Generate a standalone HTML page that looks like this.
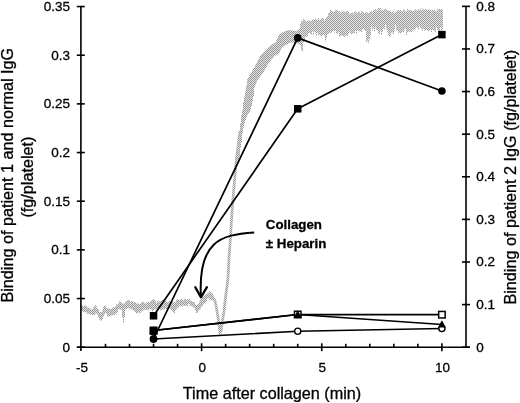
<!DOCTYPE html><html><head><meta charset="utf-8"><style>html,body{margin:0;padding:0;background:#fff;width:520px;height:403px;overflow:hidden}svg{display:block;filter:grayscale(1)}text{font-family:"Liberation Sans",sans-serif;fill:#000;stroke:#000;stroke-width:0.3px}</style></head><body>
<svg width="520" height="403" viewBox="0 0 520 403">
<defs><pattern id="dz" patternUnits="userSpaceOnUse" width="2" height="2"><rect width="2" height="2" fill="#e2e2e2"/><rect width="1" height="1" fill="#979797"/><rect x="1" y="1" width="1" height="1" fill="#979797"/></pattern><pattern id="dz2" patternUnits="userSpaceOnUse" width="2" height="2"><rect width="2" height="2" fill="#e6e6e6"/><rect width="1" height="1" fill="#9c9c9c"/><rect x="1" y="1" width="1" height="1" fill="#9c9c9c"/></pattern></defs>
<polygon points="81.0,305.0 82.0,305.0 82.0,305.9 83.0,305.9 83.0,305.9 84.0,305.9 84.0,305.2 85.0,305.2 85.0,305.5 86.0,305.5 86.0,306.2 87.0,306.2 87.0,307.6 88.0,307.6 88.0,307.4 89.0,307.4 89.0,308.6 90.0,308.6 90.0,308.6 91.0,308.6 91.0,309.4 92.0,309.4 92.0,309.1 93.0,309.1 93.0,307.2 94.0,307.2 94.0,306.6 95.0,306.6 95.0,305.3 96.0,305.3 96.0,306.5 97.0,306.5 97.0,308.4 98.0,308.4 98.0,309.5 99.0,309.5 99.0,312.3 100.0,312.3 100.0,311.8 101.0,311.8 101.0,312.3 102.0,312.3 102.0,310.6 103.0,310.6 103.0,307.2 104.0,307.2 104.0,305.4 105.0,305.4 105.0,305.8 106.0,305.8 106.0,307.9 107.0,307.9 107.0,308.4 108.0,308.4 108.0,308.5 109.0,308.5 109.0,307.9 110.0,307.9 110.0,308.9 111.0,308.9 111.0,308.8 112.0,308.8 112.0,308.0 113.0,308.0 113.0,307.3 114.0,307.3 114.0,307.2 115.0,307.2 115.0,305.9 116.0,305.9 116.0,304.5 117.0,304.5 117.0,304.2 118.0,304.2 118.0,303.1 119.0,303.1 119.0,301.3 120.0,301.3 120.0,301.5 121.0,301.5 121.0,302.7 122.0,302.7 122.0,303.0 123.0,303.0 123.0,303.7 124.0,303.7 124.0,303.2 125.0,303.2 125.0,301.6 126.0,301.6 126.0,301.3 127.0,301.3 127.0,300.6 128.0,300.6 128.0,300.0 129.0,300.0 129.0,300.6 130.0,300.6 130.0,302.2 131.0,302.2 131.0,301.1 132.0,301.1 132.0,301.6 133.0,301.6 133.0,302.7 134.0,302.7 134.0,301.7 135.0,301.7 135.0,302.6 136.0,302.6 136.0,304.0 137.0,304.0 137.0,303.3 138.0,303.3 138.0,303.7 139.0,303.7 139.0,303.9 140.0,303.9 140.0,303.6 141.0,303.6 141.0,302.5 142.0,302.5 142.0,301.7 143.0,301.7 143.0,301.8 144.0,301.8 144.0,302.7 145.0,302.7 145.0,303.5 146.0,303.5 146.0,302.5 147.0,302.5 147.0,302.3 148.0,302.3 148.0,301.8 149.0,301.8 149.0,302.6 150.0,302.6 150.0,300.9 151.0,300.9 151.0,300.1 152.0,300.1 152.0,300.0 153.0,300.0 153.0,299.2 154.0,299.2 154.0,299.5 155.0,299.5 155.0,301.1 156.0,301.1 156.0,303.1 157.0,303.1 157.0,301.0 158.0,301.0 158.0,301.7 159.0,301.7 159.0,301.3 160.0,301.3 160.0,300.9 161.0,300.9 161.0,301.1 162.0,301.1 162.0,300.1 163.0,300.1 163.0,300.0 164.0,300.0 164.0,300.9 165.0,300.9 165.0,300.7 166.0,300.7 166.0,301.8 167.0,301.8 167.0,302.0 168.0,302.0 168.0,302.0 169.0,302.0 169.0,300.9 170.0,300.9 170.0,301.1 171.0,301.1 171.0,300.5 172.0,300.5 172.0,300.9 173.0,300.9 173.0,302.3 174.0,302.3 174.0,302.2 175.0,302.2 175.0,301.8 176.0,301.8 176.0,299.9 177.0,299.9 177.0,299.5 178.0,299.5 178.0,299.9 179.0,299.9 179.0,300.1 180.0,300.1 180.0,299.7 181.0,299.7 181.0,298.6 182.0,298.6 182.0,300.2 183.0,300.2 183.0,299.9 184.0,299.9 184.0,298.8 185.0,298.8 185.0,299.1 186.0,299.1 186.0,300.3 187.0,300.3 187.0,299.2 188.0,299.2 188.0,299.8 189.0,299.8 189.0,298.8 190.0,298.8 190.0,300.9 191.0,300.9 191.0,299.9 192.0,299.9 192.0,302.1 193.0,302.1 193.0,301.6 194.0,301.6 194.0,302.3 195.0,302.3 195.0,305.0 196.0,305.0 196.0,305.2 197.0,305.2 197.0,304.4 198.0,304.4 198.0,304.0 199.0,304.0 199.0,301.6 200.0,301.6 200.0,300.1 201.0,300.1 201.0,298.8 202.0,298.8 202.0,297.1 203.0,297.1 203.0,296.2 204.0,296.2 204.0,295.4 205.0,295.4 205.0,294.5 206.0,294.5 206.0,294.1 207.0,294.1 207.0,293.5 208.0,293.5 208.0,292.7 209.0,292.7 209.0,291.5 210.0,291.5 210.0,292.1 211.0,292.1 211.0,293.5 212.0,293.5 212.0,293.1 213.0,293.1 213.0,300.6 212.0,300.6 212.0,300.1 211.0,300.1 211.0,299.3 210.0,299.3 210.0,299.4 209.0,299.4 209.0,298.6 208.0,298.6 208.0,299.0 207.0,299.0 207.0,300.9 206.0,300.9 206.0,302.4 205.0,302.4 205.0,303.2 204.0,303.2 204.0,303.7 203.0,303.7 203.0,306.2 202.0,306.2 202.0,306.8 201.0,306.8 201.0,308.8 200.0,308.8 200.0,309.8 199.0,309.8 199.0,310.6 198.0,310.6 198.0,312.7 197.0,312.7 197.0,313.1 196.0,313.1 196.0,310.9 195.0,310.9 195.0,308.0 194.0,308.0 194.0,307.5 193.0,307.5 193.0,306.6 192.0,306.6 192.0,306.5 191.0,306.5 191.0,305.9 190.0,305.9 190.0,304.0 189.0,304.0 189.0,304.1 188.0,304.1 188.0,305.8 187.0,305.8 187.0,304.9 186.0,304.9 186.0,305.9 185.0,305.9 185.0,306.0 184.0,306.0 184.0,305.6 183.0,305.6 183.0,306.2 182.0,306.2 182.0,305.9 181.0,305.9 181.0,306.2 180.0,306.2 180.0,305.6 179.0,305.6 179.0,307.5 178.0,307.5 178.0,307.5 177.0,307.5 177.0,308.9 176.0,308.9 176.0,310.6 175.0,310.6 175.0,313.2 174.0,313.2 174.0,311.9 173.0,311.9 173.0,311.6 172.0,311.6 172.0,310.0 171.0,310.0 171.0,308.7 170.0,308.7 170.0,308.8 169.0,308.8 169.0,308.5 168.0,308.5 168.0,308.4 167.0,308.4 167.0,309.0 166.0,309.0 166.0,307.8 165.0,307.8 165.0,309.2 164.0,309.2 164.0,309.5 163.0,309.5 163.0,309.0 162.0,309.0 162.0,310.0 161.0,310.0 161.0,310.6 160.0,310.6 160.0,308.7 159.0,308.7 159.0,308.9 158.0,308.9 158.0,310.5 157.0,310.5 157.0,308.9 156.0,308.9 156.0,309.4 155.0,309.4 155.0,309.4 154.0,309.4 154.0,310.4 153.0,310.4 153.0,311.4 152.0,311.4 152.0,309.4 151.0,309.4 151.0,309.6 150.0,309.6 150.0,308.9 149.0,308.9 149.0,310.6 148.0,310.6 148.0,309.8 147.0,309.8 147.0,309.7 146.0,309.7 146.0,309.7 145.0,309.7 145.0,309.9 144.0,309.9 144.0,309.7 143.0,309.7 143.0,311.2 142.0,311.2 142.0,311.3 141.0,311.3 141.0,312.7 140.0,312.7 140.0,313.3 139.0,313.3 139.0,312.4 138.0,312.4 138.0,313.5 137.0,313.5 137.0,313.1 136.0,313.1 136.0,312.2 135.0,312.2 135.0,311.3 134.0,311.3 134.0,310.4 133.0,310.4 133.0,310.3 132.0,310.3 132.0,309.2 131.0,309.2 131.0,308.5 130.0,308.5 130.0,309.5 129.0,309.5 129.0,308.0 128.0,308.0 128.0,308.3 127.0,308.3 127.0,309.4 126.0,309.4 126.0,309.5 125.0,309.5 125.0,317.3 124.0,317.3 124.0,323.1 123.0,323.1 123.0,317.6 122.0,317.6 122.0,309.8 121.0,309.8 121.0,309.6 120.0,309.6 120.0,309.2 119.0,309.2 119.0,309.3 118.0,309.3 118.0,312.1 117.0,312.1 117.0,313.0 116.0,313.0 116.0,313.8 115.0,313.8 115.0,315.2 114.0,315.2 114.0,315.1 113.0,315.1 113.0,315.9 112.0,315.9 112.0,315.5 111.0,315.5 111.0,316.2 110.0,316.2 110.0,316.6 109.0,316.6 109.0,316.5 108.0,316.5 108.0,316.5 107.0,316.5 107.0,313.9 106.0,313.9 106.0,313.0 105.0,313.0 105.0,314.4 104.0,314.4 104.0,316.3 103.0,316.3 103.0,319.1 102.0,319.1 102.0,320.8 101.0,320.8 101.0,320.5 100.0,320.5 100.0,319.4 99.0,319.4 99.0,317.2 98.0,317.2 98.0,314.7 97.0,314.7 97.0,313.2 96.0,313.2 96.0,313.5 95.0,313.5 95.0,315.1 94.0,315.1 94.0,314.9 93.0,314.9 93.0,315.5 92.0,315.5 92.0,314.3 91.0,314.3 91.0,314.4 90.0,314.4 90.0,315.1 89.0,315.1 89.0,313.2 88.0,313.2 88.0,314.1 87.0,314.1 87.0,312.2 86.0,312.2 86.0,312.5 85.0,312.5 85.0,312.3 84.0,312.3 84.0,311.7 83.0,311.7 83.0,310.9 82.0,310.9 82.0,310.9 81.0,310.9" fill="url(#dz)"/>
<polyline points="209,294.5 212,296 215,301 216.5,308 218,317.5 219.2,326 220,333 221,331 222.3,322 224,311 225.5,298 227,286 228,278 229,258 230.3,240 231.5,220 232.9,200 234.6,180 236.3,160 238.8,140 239.8,132" fill="none" stroke="url(#dz)" stroke-width="2.8" stroke-linejoin="round" stroke-linecap="round"/>
<polygon points="238.0,140.0 239.0,140.0 239.0,133.1 240.0,133.1 240.0,123.5 241.0,123.5 241.0,115.2 242.0,115.2 242.0,110.3 243.0,110.3 243.0,101.8 244.0,101.8 244.0,96.5 245.0,96.5 245.0,91.4 246.0,91.4 246.0,85.6 247.0,85.6 247.0,79.3 248.0,79.3 248.0,77.4 249.0,77.4 249.0,75.6 250.0,75.6 250.0,73.9 251.0,73.9 251.0,72.3 252.0,72.3 252.0,70.6 253.0,70.6 253.0,69.0 254.0,69.0 254.0,67.0 255.0,67.0 255.0,65.0 256.0,65.0 256.0,63.0 257.0,63.0 257.0,61.2 258.0,61.2 258.0,59.4 259.0,59.4 259.0,57.5 260.0,57.5 260.0,55.7 261.0,55.7 261.0,54.4 262.0,54.4 262.0,53.4 263.0,53.4 263.0,52.4 264.0,52.4 264.0,51.4 265.0,51.4 265.0,50.5 266.0,50.5 266.0,49.5 267.0,49.5 267.0,48.5 268.0,48.5 268.0,47.5 269.0,47.5 269.0,46.6 270.0,46.6 270.0,45.8 271.0,45.8 271.0,44.9 272.0,44.9 272.0,44.0 273.0,44.0 273.0,43.5 274.0,43.5 274.0,43.0 275.0,43.0 275.0,42.5 276.0,42.5 276.0,40.2 277.0,40.2 277.0,38.0 278.0,38.0 278.0,35.7 279.0,35.7 279.0,33.9 280.0,33.9 280.0,33.4 281.0,33.4 281.0,32.9 282.0,32.9 282.0,32.4 283.0,32.4 283.0,31.9 284.0,31.9 284.0,31.4 285.0,31.4 285.0,31.1 286.0,31.1 286.0,30.8 287.0,30.8 287.0,30.5 288.0,30.5 288.0,30.2 289.0,30.2 289.0,30.1 290.0,30.1 290.0,30.2 291.0,30.2 291.0,30.4 292.0,30.4 292.0,30.5 293.0,30.5 293.0,30.7 294.0,30.7 294.0,30.8 295.0,30.8 295.0,31.0 296.0,31.0 296.0,30.7 297.0,30.7 297.0,30.4 298.0,30.4 298.0,30.1 299.0,30.1 299.0,28.0 300.0,28.0 300.0,44.0 299.0,44.0 299.0,43.8 298.0,43.8 298.0,43.5 297.0,43.5 297.0,43.2 296.0,43.2 296.0,43.0 295.0,43.0 295.0,42.9 294.0,42.9 294.0,42.8 293.0,42.8 293.0,42.6 292.0,42.6 292.0,42.5 291.0,42.5 291.0,42.4 290.0,42.4 290.0,43.0 289.0,43.0 289.0,43.5 288.0,43.5 288.0,44.1 287.0,44.1 287.0,44.6 286.0,44.6 286.0,45.2 285.0,45.2 285.0,45.8 284.0,45.8 284.0,46.3 283.0,46.3 283.0,46.9 282.0,46.9 282.0,48.6 281.0,48.6 281.0,50.6 280.0,50.6 280.0,52.6 279.0,52.6 279.0,53.8 278.0,53.8 278.0,54.3 277.0,54.3 277.0,54.8 276.0,54.8 276.0,55.3 275.0,55.3 275.0,56.2 274.0,56.2 274.0,57.3 273.0,57.3 273.0,58.5 272.0,58.5 272.0,59.6 271.0,59.6 271.0,60.7 270.0,60.7 270.0,61.9 269.0,61.9 269.0,63.0 268.0,63.0 268.0,65.2 267.0,65.2 267.0,67.5 266.0,67.5 266.0,69.0 265.0,69.0 265.0,70.4 264.0,70.4 264.0,71.9 263.0,71.9 263.0,73.3 262.0,73.3 262.0,74.8 261.0,74.8 261.0,76.3 260.0,76.3 260.0,77.6 259.0,77.6 259.0,78.8 258.0,78.8 258.0,80.0 257.0,80.0 257.0,82.5 256.0,82.5 256.0,84.9 255.0,84.9 255.0,87.4 254.0,87.4 254.0,96.4 253.0,96.4 253.0,101.3 252.0,101.3 252.0,106.3 251.0,106.3 251.0,110.3 250.0,110.3 250.0,111.9 249.0,111.9 249.0,113.6 248.0,113.6 248.0,115.2 247.0,115.2 247.0,116.9 246.0,116.9 246.0,119.9 245.0,119.9 245.0,123.3 244.0,123.3 244.0,127.6 243.0,127.6 243.0,133.1 242.0,133.1 242.0,142.3 241.0,142.3 241.0,148.0 240.0,148.0 240.0,156.0 239.0,156.0 239.0,160.0 238.0,160.0" fill="url(#dz)"/>
<polygon points="300.0,23.4 301.0,23.4 301.0,20.5 302.0,20.5 302.0,20.8 303.0,20.8 303.0,18.9 304.0,18.9 304.0,20.0 305.0,20.0 305.0,20.5 306.0,20.5 306.0,20.9 307.0,20.9 307.0,20.6 308.0,20.6 308.0,20.6 309.0,20.6 309.0,20.9 310.0,20.9 310.0,21.3 311.0,21.3 311.0,20.9 312.0,20.9 312.0,19.8 313.0,19.8 313.0,19.6 314.0,19.6 314.0,19.9 315.0,19.9 315.0,18.2 316.0,18.2 316.0,19.6 317.0,19.6 317.0,19.7 318.0,19.7 318.0,17.7 319.0,17.7 319.0,19.7 320.0,19.7 320.0,19.3 321.0,19.3 321.0,18.5 322.0,18.5 322.0,18.0 323.0,18.0 323.0,18.2 324.0,18.2 324.0,20.4 325.0,20.4 325.0,19.0 326.0,19.0 326.0,17.3 327.0,17.3 327.0,16.3 328.0,16.3 328.0,13.6 329.0,13.6 329.0,11.9 330.0,11.9 330.0,9.7 331.0,9.7 331.0,10.5 332.0,10.5 332.0,11.4 333.0,11.4 333.0,11.7 334.0,11.7 334.0,11.8 335.0,11.8 335.0,9.8 336.0,9.8 336.0,9.9 337.0,9.9 337.0,10.6 338.0,10.6 338.0,12.1 339.0,12.1 339.0,11.2 340.0,11.2 340.0,12.5 341.0,12.5 341.0,12.0 342.0,12.0 342.0,11.1 343.0,11.1 343.0,11.5 344.0,11.5 344.0,11.3 345.0,11.3 345.0,12.2 346.0,12.2 346.0,11.0 347.0,11.0 347.0,11.0 348.0,11.0 348.0,12.0 349.0,12.0 349.0,13.4 350.0,13.4 350.0,13.4 351.0,13.4 351.0,12.7 352.0,12.7 352.0,12.6 353.0,12.6 353.0,13.5 354.0,13.5 354.0,11.8 355.0,11.8 355.0,11.6 356.0,11.6 356.0,12.5 357.0,12.5 357.0,12.7 358.0,12.7 358.0,11.9 359.0,11.9 359.0,11.4 360.0,11.4 360.0,13.1 361.0,13.1 361.0,10.7 362.0,10.7 362.0,12.0 363.0,12.0 363.0,11.9 364.0,11.9 364.0,12.9 365.0,12.9 365.0,12.3 366.0,12.3 366.0,12.3 367.0,12.3 367.0,12.7 368.0,12.7 368.0,13.0 369.0,13.0 369.0,12.4 370.0,12.4 370.0,11.5 371.0,11.5 371.0,11.3 372.0,11.3 372.0,12.3 373.0,12.3 373.0,9.6 374.0,9.6 374.0,10.2 375.0,10.2 375.0,8.9 376.0,8.9 376.0,10.4 377.0,10.4 377.0,9.4 378.0,9.4 378.0,7.7 379.0,7.7 379.0,8.1 380.0,8.1 380.0,7.9 381.0,7.9 381.0,10.4 382.0,10.4 382.0,9.0 383.0,9.0 383.0,10.8 384.0,10.8 384.0,9.1 385.0,9.1 385.0,8.8 386.0,8.8 386.0,9.4 387.0,9.4 387.0,10.7 388.0,10.7 388.0,10.5 389.0,10.5 389.0,10.4 390.0,10.4 390.0,10.9 391.0,10.9 391.0,11.9 392.0,11.9 392.0,12.0 393.0,12.0 393.0,11.3 394.0,11.3 394.0,12.8 395.0,12.8 395.0,12.1 396.0,12.1 396.0,12.1 397.0,12.1 397.0,10.4 398.0,10.4 398.0,9.9 399.0,9.9 399.0,11.1 400.0,11.1 400.0,9.6 401.0,9.6 401.0,11.1 402.0,11.1 402.0,11.2 403.0,11.2 403.0,9.4 404.0,9.4 404.0,9.4 405.0,9.4 405.0,11.4 406.0,11.4 406.0,11.0 407.0,11.0 407.0,9.1 408.0,9.1 408.0,10.4 409.0,10.4 409.0,10.0 410.0,10.0 410.0,9.9 411.0,9.9 411.0,10.5 412.0,10.5 412.0,10.9 413.0,10.9 413.0,10.2 414.0,10.2 414.0,10.4 415.0,10.4 415.0,9.2 416.0,9.2 416.0,10.5 417.0,10.5 417.0,10.2 418.0,10.2 418.0,9.0 419.0,9.0 419.0,9.5 420.0,9.5 420.0,8.5 421.0,8.5 421.0,10.2 422.0,10.2 422.0,8.6 423.0,8.6 423.0,9.2 424.0,9.2 424.0,10.0 425.0,10.0 425.0,8.6 426.0,8.6 426.0,9.8 427.0,9.8 427.0,10.3 428.0,10.3 428.0,9.4 429.0,9.4 429.0,9.4 430.0,9.4 430.0,9.9 431.0,9.9 431.0,11.2 432.0,11.2 432.0,9.3 433.0,9.3 433.0,11.0 434.0,11.0 434.0,9.5 435.0,9.5 435.0,10.8 436.0,10.8 436.0,11.2 437.0,11.2 437.0,9.3 438.0,9.3 438.0,9.0 439.0,9.0 439.0,9.1 440.0,9.1 440.0,9.4 441.0,9.4 441.0,9.1 442.0,9.1 442.0,10.1 443.0,10.1 443.0,29.3 442.0,29.3 442.0,32.0 441.0,32.0 441.0,27.2 440.0,27.2 440.0,32.3 439.0,32.3 439.0,30.5 438.0,30.5 438.0,29.7 437.0,29.7 437.0,26.8 436.0,26.8 436.0,32.0 435.0,32.0 435.0,30.7 434.0,30.7 434.0,30.4 433.0,30.4 433.0,30.1 432.0,30.1 432.0,31.9 431.0,31.9 431.0,29.6 430.0,29.6 430.0,30.3 429.0,30.3 429.0,31.0 428.0,31.0 428.0,30.4 427.0,30.4 427.0,29.7 426.0,29.7 426.0,30.1 425.0,30.1 425.0,30.5 424.0,30.5 424.0,28.8 423.0,28.8 423.0,30.8 422.0,30.8 422.0,29.3 421.0,29.3 421.0,27.8 420.0,27.8 420.0,25.4 419.0,25.4 419.0,29.9 418.0,29.9 418.0,27.5 417.0,27.5 417.0,27.0 416.0,27.0 416.0,28.6 415.0,28.6 415.0,30.2 414.0,30.2 414.0,29.8 413.0,29.8 413.0,30.4 412.0,30.4 412.0,33.0 411.0,33.0 411.0,31.4 410.0,31.4 410.0,31.8 409.0,31.8 409.0,31.2 408.0,31.2 408.0,32.6 407.0,32.6 407.0,35.0 406.0,35.0 406.0,28.9 405.0,28.9 405.0,29.8 404.0,29.8 404.0,32.7 403.0,32.7 403.0,31.6 402.0,31.6 402.0,32.5 401.0,32.5 401.0,33.9 400.0,33.9 400.0,33.3 399.0,33.3 399.0,32.8 398.0,32.8 398.0,30.2 397.0,30.2 397.0,30.6 396.0,30.6 396.0,25.0 395.0,25.0 395.0,30.5 394.0,30.5 394.0,34.0 393.0,34.0 393.0,32.6 392.0,32.6 392.0,33.1 391.0,33.1 391.0,36.6 390.0,36.6 390.0,36.7 389.0,36.7 389.0,34.7 388.0,34.7 388.0,31.7 387.0,31.7 387.0,28.7 386.0,28.7 386.0,24.8 385.0,24.8 385.0,29.8 384.0,29.8 384.0,28.8 383.0,28.8 383.0,31.8 382.0,31.8 382.0,34.8 381.0,34.8 381.0,30.8 380.0,30.8 380.0,34.3 379.0,34.3 379.0,32.9 378.0,32.9 378.0,30.4 377.0,30.4 377.0,30.0 376.0,30.0 376.0,27.6 375.0,27.6 375.0,31.1 374.0,31.1 374.0,28.7 373.0,28.7 373.0,30.4 372.0,30.4 372.0,27.0 371.0,27.0 371.0,35.1 370.0,35.1 370.0,39.3 369.0,39.3 369.0,43.4 368.0,43.4 368.0,41.4 367.0,41.4 367.0,42.3 366.0,42.3 366.0,31.1 365.0,31.1 365.0,30.0 364.0,30.0 364.0,29.2 363.0,29.2 363.0,29.5 362.0,29.5 362.0,32.8 361.0,32.8 361.0,31.0 360.0,31.0 360.0,31.3 359.0,31.3 359.0,31.6 358.0,31.6 358.0,29.9 357.0,29.9 357.0,34.2 356.0,34.2 356.0,30.5 355.0,30.5 355.0,33.0 354.0,33.0 354.0,33.5 353.0,33.5 353.0,33.0 352.0,33.0 352.0,34.5 351.0,34.5 351.0,33.0 350.0,33.0 350.0,31.5 349.0,31.5 349.0,33.0 348.0,33.0 348.0,36.5 347.0,36.5 347.0,36.0 346.0,36.0 346.0,35.5 345.0,35.5 345.0,37.0 344.0,37.0 344.0,36.6 343.0,36.6 343.0,36.1 342.0,36.1 342.0,35.6 341.0,35.6 341.0,36.2 340.0,36.2 340.0,36.7 339.0,36.7 339.0,32.2 338.0,32.2 338.0,33.8 337.0,33.8 337.0,33.3 336.0,33.3 336.0,30.8 335.0,30.8 335.0,32.4 334.0,32.4 334.0,30.9 333.0,30.9 333.0,31.5 332.0,31.5 332.0,33.0 331.0,33.0 331.0,33.8 330.0,33.8 330.0,32.5 329.0,32.5 329.0,34.2 328.0,34.2 328.0,34.0 327.0,34.0 327.0,38.2 326.0,38.2 326.0,41.5 325.0,41.5 325.0,36.3 324.0,36.3 324.0,34.2 323.0,34.2 323.0,35.0 322.0,35.0 322.0,37.0 321.0,37.0 321.0,36.0 320.0,36.0 320.0,35.0 319.0,35.0 319.0,36.0 318.0,36.0 318.0,32.9 317.0,32.9 317.0,35.7 316.0,35.7 316.0,33.5 315.0,33.5 315.0,31.4 314.0,31.4 314.0,35.2 313.0,35.2 313.0,31.0 312.0,31.0 312.0,35.0 311.0,35.0 311.0,34.0 310.0,34.0 310.0,33.0 309.0,33.0 309.0,34.0 308.0,34.0 308.0,36.5 307.0,36.5 307.0,37.4 306.0,37.4 306.0,36.2 305.0,36.2 305.0,40.1 304.0,40.1 304.0,42.4 303.0,42.4 303.0,52.0 302.0,52.0 302.0,50.0 301.0,50.0 301.0,46.0 300.0,46.0" fill="url(#dz2)"/>
<g stroke="#000" stroke-width="1.6" fill="none">
<line x1="80.9" y1="6.55" x2="80.9" y2="351"/>
<line x1="466.0" y1="6.35" x2="466.0" y2="347.2"/>
<line x1="77" y1="347.2" x2="470" y2="347.2"/>
<line x1="76.8" y1="347.20" x2="84.8" y2="347.20"/>
<line x1="76.8" y1="298.54" x2="84.8" y2="298.54"/>
<line x1="76.8" y1="249.87" x2="84.8" y2="249.87"/>
<line x1="76.8" y1="201.21" x2="84.8" y2="201.21"/>
<line x1="76.8" y1="152.54" x2="84.8" y2="152.54"/>
<line x1="76.8" y1="103.88" x2="84.8" y2="103.88"/>
<line x1="76.8" y1="55.21" x2="84.8" y2="55.21"/>
<line x1="76.8" y1="6.55" x2="84.8" y2="6.55"/>
<line x1="462" y1="347.20" x2="470" y2="347.20"/>
<line x1="462" y1="304.59" x2="470" y2="304.59"/>
<line x1="462" y1="261.99" x2="470" y2="261.99"/>
<line x1="462" y1="219.38" x2="470" y2="219.38"/>
<line x1="462" y1="176.78" x2="470" y2="176.78"/>
<line x1="462" y1="134.17" x2="470" y2="134.17"/>
<line x1="462" y1="91.56" x2="470" y2="91.56"/>
<line x1="462" y1="48.96" x2="470" y2="48.96"/>
<line x1="462" y1="6.35" x2="470" y2="6.35"/>
<line x1="105.48" y1="343.8" x2="105.48" y2="347.2"/>
<line x1="129.51" y1="343.8" x2="129.51" y2="347.2"/>
<line x1="153.54" y1="343.8" x2="153.54" y2="347.2"/>
<line x1="177.57" y1="343.8" x2="177.57" y2="347.2"/>
<line x1="201.60" y1="343.3" x2="201.60" y2="351.2"/>
<line x1="225.63" y1="343.8" x2="225.63" y2="347.2"/>
<line x1="249.66" y1="343.8" x2="249.66" y2="347.2"/>
<line x1="273.69" y1="343.8" x2="273.69" y2="347.2"/>
<line x1="297.72" y1="343.8" x2="297.72" y2="347.2"/>
<line x1="321.75" y1="343.3" x2="321.75" y2="351.2"/>
<line x1="345.78" y1="343.8" x2="345.78" y2="347.2"/>
<line x1="369.81" y1="343.8" x2="369.81" y2="347.2"/>
<line x1="393.84" y1="343.8" x2="393.84" y2="347.2"/>
<line x1="417.87" y1="343.8" x2="417.87" y2="347.2"/>
<line x1="441.90" y1="343.3" x2="441.90" y2="351.2"/>
</g>
<text x="70.1" y="351.55" font-size="13.5" text-anchor="end">0</text>
<text x="70.1" y="302.89" font-size="13.5" text-anchor="end">0.05</text>
<text x="70.1" y="254.22" font-size="13.5" text-anchor="end">0.1</text>
<text x="70.1" y="205.56" font-size="13.5" text-anchor="end">0.15</text>
<text x="70.1" y="156.89" font-size="13.5" text-anchor="end">0.2</text>
<text x="70.1" y="108.23" font-size="13.5" text-anchor="end">0.25</text>
<text x="70.1" y="59.56" font-size="13.5" text-anchor="end">0.3</text>
<text x="70.1" y="10.90" font-size="13.5" text-anchor="end">0.35</text>
<text x="476.2" y="351.55" font-size="13.5">0</text>
<text x="476.2" y="308.94" font-size="13.5">0.1</text>
<text x="476.2" y="266.34" font-size="13.5">0.2</text>
<text x="476.2" y="223.73" font-size="13.5">0.3</text>
<text x="476.2" y="181.12" font-size="13.5">0.4</text>
<text x="476.2" y="138.52" font-size="13.5">0.5</text>
<text x="476.2" y="95.91" font-size="13.5">0.6</text>
<text x="476.2" y="53.31" font-size="13.5">0.7</text>
<text x="476.2" y="10.70" font-size="13.5">0.8</text>
<text x="82.05" y="371.6" font-size="13.5" text-anchor="middle">-5</text>
<text x="202.20" y="371.6" font-size="13.5" text-anchor="middle">0</text>
<text x="322.35" y="371.6" font-size="13.5" text-anchor="middle">5</text>
<text x="442.50" y="371.6" font-size="13.5" text-anchor="middle">10</text>
<text x="272.0" y="398.5" font-size="16.2" text-anchor="middle">Time after collagen (min)</text>
<text transform="translate(13.1,175.2) rotate(-90)" font-size="16.2" text-anchor="middle">Binding of patient 1 and normal IgG</text>
<text transform="translate(32.8,177.1) rotate(-90)" font-size="16.2" text-anchor="middle">(fg/platelet)</text>
<text transform="translate(515.5,177.2) rotate(-90)" font-size="16.2" text-anchor="middle">Binding of patient 2 IgG (fg/platelet)</text>
<text x="265.8" y="229.3" font-size="13.3" font-weight="bold">Collagen</text>
<text x="265.8" y="247.5" font-size="13.3" font-weight="bold">± Heparin</text>
<path d="M254.2,232.4 C220.24,234.66 198.06,241.49 200.9,296.5" fill="none" stroke="#000" stroke-width="2"/>
<path d="M195.3,287.2 L200.9,297.3 L206.9,287.2" fill="none" stroke="#000" stroke-width="2.3" stroke-linejoin="round" stroke-linecap="round"/>
<g stroke="#000" stroke-width="1.7" fill="none" stroke-linejoin="round">
<polyline points="153.54,339.00 297.72,331.25 441.90,328.50"/>
<polyline points="153.54,330.50 297.72,314.50 441.90,314.70"/>
<polyline points="153.54,330.50 297.72,314.50 441.90,324.50"/>
<polyline points="153.54,339.00 297.72,37.90 441.90,91.00"/>
<polyline points="153.54,315.80 297.72,108.80 441.90,34.60"/>
</g>
<circle cx="153.54" cy="339.00" r="3.0999999999999996" fill="#fff" stroke="#000" stroke-width="1.4"/>
<circle cx="297.72" cy="331.25" r="3.0999999999999996" fill="#fff" stroke="#000" stroke-width="1.4"/>
<circle cx="441.90" cy="328.50" r="3.0999999999999996" fill="#fff" stroke="#000" stroke-width="1.4"/>
<rect x="150.29" y="327.25" width="6.5" height="6.5" fill="#fff" stroke="#000" stroke-width="1.5"/>
<rect x="294.47" y="311.25" width="6.5" height="6.5" fill="#fff" stroke="#000" stroke-width="1.5"/>
<rect x="438.65" y="311.45" width="6.5" height="6.5" fill="#fff" stroke="#000" stroke-width="1.5"/>
<rect x="149.84" y="327.50" width="7.4" height="7.4" fill="#000"/>
<polygon points="153.54,326.18 157.54,333.38 149.54,333.38" fill="#000"/>
<polygon points="297.72,310.18 301.72,317.38 293.72,317.38" fill="#000"/>
<polygon points="441.90,320.18 445.90,327.38 437.90,327.38" fill="#000"/>
<circle cx="153.54" cy="339.00" r="3.8" fill="#000"/>
<circle cx="297.72" cy="37.90" r="3.8" fill="#000"/>
<circle cx="441.90" cy="91.00" r="3.8" fill="#000"/>
<rect x="149.79" y="312.05" width="7.5" height="7.5" fill="#000"/>
<rect x="293.97" y="105.05" width="7.5" height="7.5" fill="#000"/>
<rect x="438.15" y="30.85" width="7.5" height="7.5" fill="#000"/>
</svg></body></html>
